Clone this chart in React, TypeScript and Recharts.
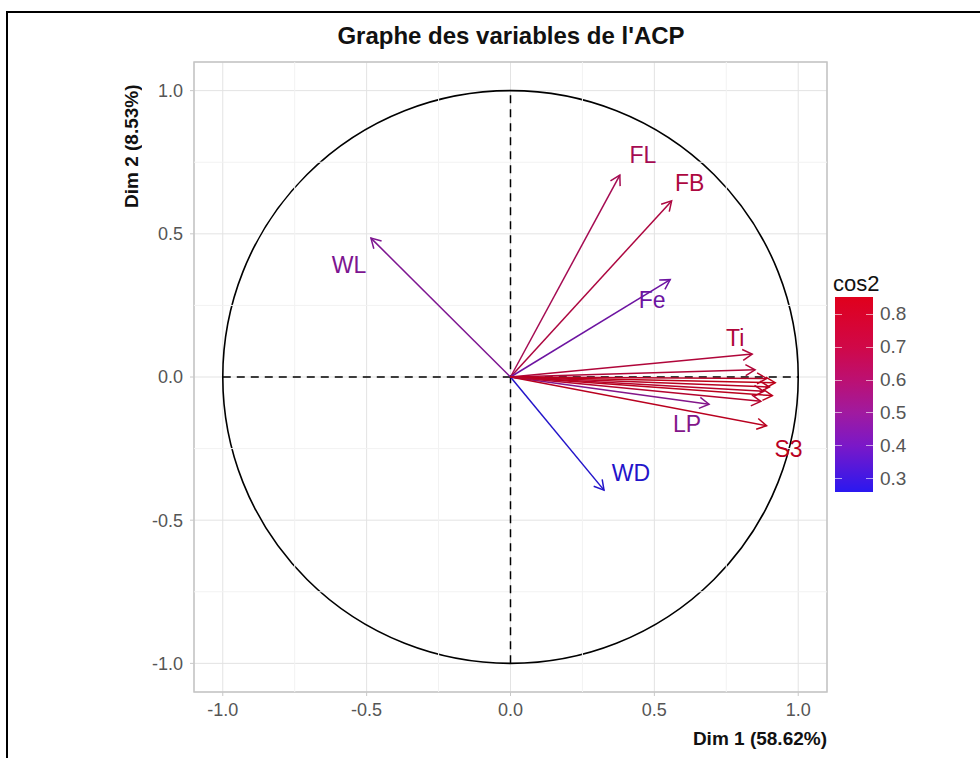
import React from "react";
import {
  ScatterChart,
  Scatter,
  XAxis,
  YAxis,
  CartesianGrid,
  ReferenceLine,
  ReferenceArea,
} from "recharts";

// variables of the PCA (coordinates on Dim 1 / Dim 2) and their cos2
const varNames = ["WL", "FL", "FB", "Fe", "Ti", "LP", "S3", "WD", "V9", "V10", "V11", "V12", "V13", "V14", "V15"];
const dim1 = [-0.485, 0.38, 0.56, 0.555, 0.84, 0.69, 0.89, 0.325, 0.85, 0.89, 0.92, 0.9, 0.88, 0.91, 0.87];
const dim2 = [0.485, 0.705, 0.615, 0.34, 0.08, -0.095, -0.17, -0.395, 0.025, -0.005, -0.02, -0.035, -0.05, -0.065, -0.085];
const cos2 = [0.47, 0.64, 0.69, 0.42, 0.71, 0.49, 0.82, 0.26, 0.72, 0.79, 0.85, 0.81, 0.78, 0.83, 0.76];
const shownLabels = ["WL", "FL", "FB", "Fe", "Ti", "LP", "S3", "WD"];

const axisTicks = [-1, -0.5, 0, 0.5, 1];
const minorTicks = [-0.75, -0.25, 0.25, 0.75];
const legendTicks = [0.3, 0.4, 0.5, 0.6, 0.7, 0.8];
const cos2Min = 0.26;
const cos2Max = 0.852;

// where each label sits, in px from the arrow tip
const labelOffset: Record<string, [number, number]> = {
  WL: [-22, 27],
  FL: [23, -20],
  FB: [18, -18],
  Fe: [-18, 20],
  Ti: [-17, -16],
  LP: [-22, 20],
  S3: [22, 23],
  WD: [27, -17],
};

const colorStops: [number, string][] = [
  [0.26, "#2a18f0"],
  [0.4, "#7a18c8"],
  [0.5, "#a01aa0"],
  [0.6, "#bc1072"],
  [0.7, "#d00848"],
  [0.852, "#e0001c"],
];

function hexRgb(h: string) {
  return [1, 3, 5].map((i) => parseInt(h.slice(i, i + 2), 16));
}

// shade < 1 darkens (the thin arrows read darker than the colour bar)
function cos2Color(v: number, shade = 1) {
  let m = hexRgb(colorStops[colorStops.length - 1][1]);
  if (v <= colorStops[0][0]) m = hexRgb(colorStops[0][1]);
  else {
    for (let i = 1; i < colorStops.length; i++) {
      const [v1, c1] = colorStops[i];
      const [v0, c0] = colorStops[i - 1];
      if (v <= v1) {
        const t = (v - v0) / (v1 - v0);
        const a = hexRgb(c0);
        const b = hexRgb(c1);
        m = a.map((x, k) => x + (b[k] - x) * t);
        break;
      }
    }
  }
  const s = m.map((x) => Math.round(x * shade));
  return `rgb(${s[0]},${s[1]},${s[2]})`;
}

const vars = varNames.map((name, i) => ({
  name,
  x: dim1[i],
  y: dim2[i],
  cos2: cos2[i],
}));

function Arrow(props: any) {
  const { x1, y1, x2, y2, color, label } = props;
  const ang = Math.atan2(y2 - y1, x2 - x1);
  const len = 11;
  const spread = Math.PI / 6;
  const ax1 = x2 - len * Math.cos(ang - spread);
  const ay1 = y2 - len * Math.sin(ang - spread);
  const ax2 = x2 - len * Math.cos(ang + spread);
  const ay2 = y2 - len * Math.sin(ang + spread);
  const off = label ? labelOffset[label] : null;
  return (
    <g>
      <line x1={x1} y1={y1} x2={x2} y2={y2} stroke={color} strokeWidth={1.5} />
      <polyline
        points={`${ax1},${ay1} ${x2},${y2} ${ax2},${ay2}`}
        fill="none"
        stroke={color}
        strokeWidth={1.5}
      />
      {off && (
        <text
          x={x2 + off[0]}
          y={y2 + off[1]}
          textAnchor="middle"
          dominantBaseline="central"
          fill={color}
          fontSize={23}
        >
          {label}
        </text>
      )}
    </g>
  );
}

const font = "'Liberation Sans', Arial, sans-serif";
const fmt = (v: number) => v.toFixed(1);

export default function App() {
  const legendTop = 297;
  const legendH = 195;
  const legendY = (v: number) => legendTop + ((cos2Max - v) / (cos2Max - cos2Min)) * legendH;
  const gradient = colorStops
    .map(([v, c]) => `${c} ${(((v - cos2Min) / (cos2Max - cos2Min)) * 100).toFixed(1)}%`)
    .join(", ");

  return (
    <div
      style={{
        position: "fixed",
        left: 0,
        top: 0,
        width: 980,
        height: 758,
        background: "#fff",
        fontFamily: font,
        overflow: "hidden",
      }}
    >
      <div
        style={{
          position: "absolute",
          left: 6,
          top: 11,
          width: 1000,
          height: 800,
          borderLeft: "2px solid #000",
          borderTop: "2px solid #000",
        }}
      />
      <div
        style={{
          position: "absolute",
          left: 0,
          width: 1022,
          top: 22,
          textAlign: "center",
          fontWeight: "bold",
          fontSize: 24,
          color: "#111",
        }}
      >
        Graphe des variables de l'ACP
      </div>

      <div style={{ position: "absolute", left: 0, top: 0 }}>
        <ScatterChart
          width={980}
          height={758}
          margin={{ top: 62, right: 153, bottom: 36, left: 134 }}
        >
          {minorTicks.map((t) => (
            <ReferenceLine key={"mx" + t} x={t} stroke="#f2f2f2" strokeWidth={1} />
          ))}
          {minorTicks.map((t) => (
            <ReferenceLine key={"my" + t} y={t} stroke="#f2f2f2" strokeWidth={1} />
          ))}
          <CartesianGrid stroke="#e3e3e3" strokeWidth={1} />
          <XAxis
            type="number"
            dataKey="x"
            domain={[-1.1, 1.1]}
            ticks={axisTicks}
            tickFormatter={fmt}
            allowDataOverflow
            axisLine={false}
            tickLine={{ stroke: "#c8c8c8" }}
            tickSize={4}
            tickMargin={7}
            height={30}
            tick={{ fill: "#555", fontSize: 18, fontFamily: font }}
          />
          <YAxis
            type="number"
            dataKey="y"
            domain={[-1.1, 1.1]}
            ticks={axisTicks}
            tickFormatter={fmt}
            allowDataOverflow
            axisLine={false}
            tickLine={{ stroke: "#c8c8c8" }}
            tickSize={4}
            tickMargin={7}
            width={60}
            tick={{ fill: "#555", fontSize: 18, fontFamily: font }}
          />
          <ReferenceArea
            x1={-1.1}
            x2={1.1}
            y1={-1.1}
            y2={1.1}
            fill="none"
            stroke="#c4c4c4"
            strokeWidth={1.5}
            ifOverflow="visible"
          />
          <ReferenceArea
            x1={-1}
            x2={1}
            y1={-1}
            y2={1}
            ifOverflow="visible"
            shape={(p: any) => (
              <ellipse
                cx={p.x + p.width / 2}
                cy={p.y + p.height / 2}
                rx={Math.abs(p.width) / 2}
                ry={Math.abs(p.height) / 2}
                fill="none"
                stroke="#000"
                strokeWidth={1.6}
              />
            )}
          />
          <ReferenceLine
            segment={[
              { x: -1, y: 0 },
              { x: 1, y: 0 },
            ]}
            stroke="#000"
            strokeWidth={1.5}
            strokeDasharray="8 6"
          />
          <ReferenceLine
            segment={[
              { x: 0, y: -1 },
              { x: 0, y: 1 },
            ]}
            stroke="#000"
            strokeWidth={1.5}
            strokeDasharray="8 6"
          />
          {vars.map((v) => (
            <ReferenceLine
              key={v.name}
              segment={[
                { x: 0, y: 0 },
                { x: v.x, y: v.y },
              ]}
              ifOverflow="visible"
              shape={(p: any) => (
                <Arrow
                  {...p}
                  color={cos2Color(v.cos2, 0.84)}
                  label={shownLabels.includes(v.name) ? v.name : null}
                />
              )}
            />
          ))}
          <Scatter data={vars} isAnimationActive={false} shape={() => <g />} />
        </ScatterChart>
      </div>

      <div
        style={{
          position: "absolute",
          right: 980 - 827,
          top: 728,
          fontWeight: "bold",
          fontSize: 19,
          color: "#111",
          whiteSpace: "nowrap",
        }}
      >
        Dim 1 (58.62%)
      </div>
      <div
        style={{
          position: "absolute",
          left: 121,
          top: 62,
          width: 22,
          height: 146,
          writingMode: "vertical-rl",
          transform: "rotate(180deg)",
          fontWeight: "bold",
          fontSize: 19,
          color: "#111",
          whiteSpace: "nowrap",
          textAlign: "left",
          lineHeight: "22px",
        }}
      >
        Dim 2 (8.53%)
      </div>

      <div
        style={{
          position: "absolute",
          left: 833,
          top: 271,
          fontSize: 22,
          color: "#111",
        }}
      >
        cos2
      </div>
      <div
        style={{
          position: "absolute",
          left: 835,
          top: legendTop,
          width: 38,
          height: legendH,
          background: `linear-gradient(to top, ${gradient})`,
        }}
      />
      {legendTicks.map((t) => (
        <React.Fragment key={t}>
          <div
            style={{
              position: "absolute",
              left: 835,
              top: legendY(t) - 0.5,
              width: 7,
              height: 1,
              background: "rgba(255,255,255,0.6)",
            }}
          />
          <div
            style={{
              position: "absolute",
              left: 866,
              top: legendY(t) - 0.5,
              width: 7,
              height: 1,
              background: "rgba(255,255,255,0.6)",
            }}
          />
          <div
            style={{
              position: "absolute",
              left: 880,
              top: legendY(t) - 11,
              fontSize: 19,
              lineHeight: "22px",
              color: "#555",
            }}
          >
            {t.toFixed(1)}
          </div>
        </React.Fragment>
      ))}
    </div>
  );
}
